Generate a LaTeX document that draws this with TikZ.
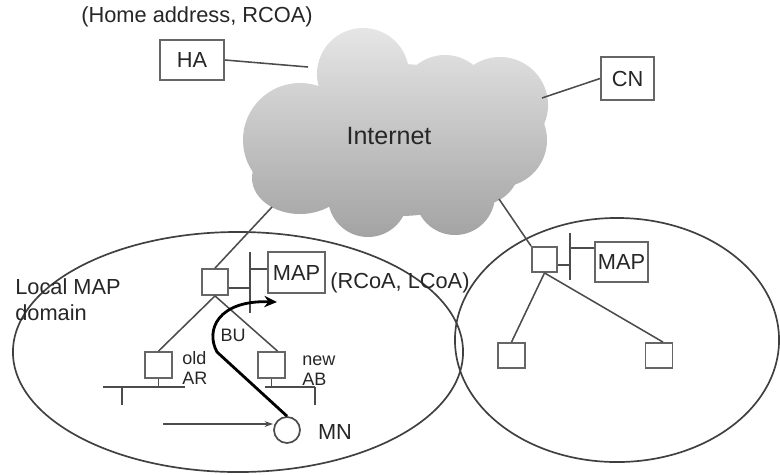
\documentclass[tikz,border=0pt]{standalone}
\usepackage{fontspec}
\setmainfont{Liberation Sans}
\usetikzlibrary{arrows.meta,calc}
\begin{document}
\begin{tikzpicture}[x=0.025cm,y=-0.025cm,
  lbl/.style={font=\fontsize{15.5}{18}\selectfont, inner sep=0pt, text=black!85},
  sml/.style={font=\fontsize{12.8}{14.5}\selectfont, inner sep=0pt, align=left, text=black!85},
  box/.style={draw=black!60, line width=1.3pt, fill=white, inner sep=0pt, font=\fontsize{15.5}{18}\selectfont, text=black!85},
  rtr/.style={draw=black!60, line width=1.3pt, fill=white, inner sep=0pt},
  link/.style={draw=black!70, line width=1.1pt},
  bu/.style={draw=black, line width=2pt, -{Stealth[length=9pt,width=8pt]}},
  mapdomain/.style={draw=black!75, line width=1.2pt}]
\useasboundingbox (0,0) rectangle (780,474);

% domains
\draw[mapdomain] (238,352) ellipse [x radius=5.625cm, y radius=3cm];
\draw[mapdomain] (617,340) ellipse [x radius=4.05cm, y radius=3.05cm];

% cloud
\shade[top color=black!10, bottom color=black!36]
  (363,74) circle[radius=1.15cm]
  (445,100) circle[radius=1.125cm]
  (500,105) circle[radius=1.2cm]
  (500,140) circle[radius=1.175cm]
  (300,140) circle[radius=1.425cm]
  (300,178) ellipse[x radius=1.2cm, y radius=0.9cm]
  (368,197) circle[radius=1.0cm]
  (455,195) circle[radius=1.0cm]
  (480,165) circle[radius=1.0cm]
  (400,140) ellipse[x radius=2.75cm, y radius=1.9cm];
\node[font=\fontsize{17.8}{20}\selectfont, text=black!85] (inet) at (389,136) {Internet};
\coordinate (cHA) at (308,67);
\coordinate (cCN) at (542,98);
\coordinate (cL) at (272,207);
\coordinate (cR) at (499,199);

% top labels and boxes
\node[lbl] (hlabel) at (197,17) {(Home address, RCOA)};
\node[box, minimum width=1.6cm, minimum height=1.0cm] (ha) at (192,60) {HA};
\node[box, minimum width=1.325cm, minimum height=1.075cm] (cn) at (627.5,78.5) {CN};
\draw[link] (ha.east) -- (cHA);
\draw[link] (cCN) -- (cn.west);

% left domain
\node[rtr, minimum width=0.65cm, minimum height=0.65cm] (lr) at (215,282) {};
\coordinate (lbt) at (250,252);
\coordinate (lbb) at (250,313);
\node[box, minimum width=1.425cm, minimum height=1.025cm] (lmap) at (296.5,272.5) {MAP};
\draw[link] (lbt) -- (lbb);
\draw[link] ([yshift=-0.15cm]lr.east) -- ([yshift=-0.15cm]lr.east -| lbt);
\draw[link] ([yshift=0.09cm]lmap.west) -- ([yshift=0.09cm]lmap.west -| lbt);
\draw[link] (cL) -- (lr.north);
\node[lbl, anchor=west] (rcoa) at (330,283) {(RCoA, LCoA)};
\node[lbl, anchor=west, align=left, font=\fontsize{15.5}{18.5}\selectfont] (local) at (15,300) {Local MAP\\domain};

\node[rtr, minimum width=0.675cm, minimum height=0.65cm] (oar) at (158.5,365) {};
\node[rtr, minimum width=0.675cm, minimum height=0.65cm] (nar) at (271.5,365) {};
\draw[link] (lr.south) -- (oar.north);
\draw[link] (lr.south) -- ([xshift=0.15cm]nar.north);
\node[sml, anchor=west, font=\fontsize{12.8}{14.2}\selectfont] (oldt) at (182,368) {old\\AR};
\node[sml, anchor=west, font=\fontsize{12.8}{14.2}\selectfont] (newt) at (302,371) {new\\AB};

\coordinate (ob1) at (103,387);
\coordinate (ob2) at (185,387);
\coordinate (ot1) at (122,387);
\coordinate (ot2) at (122,405);
\draw[link] (ob1) -- (ob2);
\draw[link] (oar.south) -- (oar.south |- ob1);
\draw[link] (ot1) -- (ot2);
\coordinate (nb1) at (265,387);
\coordinate (nb2) at (315,387);
\coordinate (nt1) at (315,387);
\coordinate (nt2) at (315,405);
\draw[link] (nb1) -- (nb2);
\draw[link] (nar.south) -- (nar.south |- nb1);
\draw[link] (nt1) -- (nt2);

\node[draw=black!70, line width=1.2pt, circle, minimum size=0.65cm, inner sep=0pt, fill=white] (mn) at (287,430) {};
\node[lbl] (mnt) at (335,432) {MN};
\coordinate (arrs) at (163,424);
\draw[link, -{Stealth[length=6pt,width=4pt]}] (arrs) -- (arrs -| mn.west);

\coordinate (bup) at (217,352);
\coordinate (butip) at (277,302);
\draw[bu] (mn.north) -- (bup) .. controls (205,330) and (218,300) .. (butip);
\node[sml] (but) at (233,335) {BU};

% right domain
\node[rtr, minimum width=0.625cm, minimum height=0.625cm] (rr) at (544.5,259.5) {};
\coordinate (rbt) at (570,233);
\coordinate (rbb) at (570,280);
\node[box, minimum width=1.325cm, minimum height=1.0cm] (rmap) at (621.5,262) {MAP};
\draw[link] (rbt) -- (rbb);
\draw[link] ([yshift=-0.14cm]rr.east) -- ([yshift=-0.14cm]rr.east -| rbt);
\draw[link] ([yshift=0.35cm]rmap.west) -- ([yshift=0.35cm]rmap.west -| rbt);
\draw[link] (cR) -- (rr.north west);
\node[rtr, minimum width=0.675cm, minimum height=0.625cm] (rl) at (511.5,355.5) {};
\node[rtr, minimum width=0.675cm, minimum height=0.625cm] (rrb) at (659,355.5) {};
\draw[link] (rr.south) -- (rl.north);
\draw[link] (rr.south) -- ([xshift=0.1cm]rrb.north);
\end{tikzpicture}
\end{document}
